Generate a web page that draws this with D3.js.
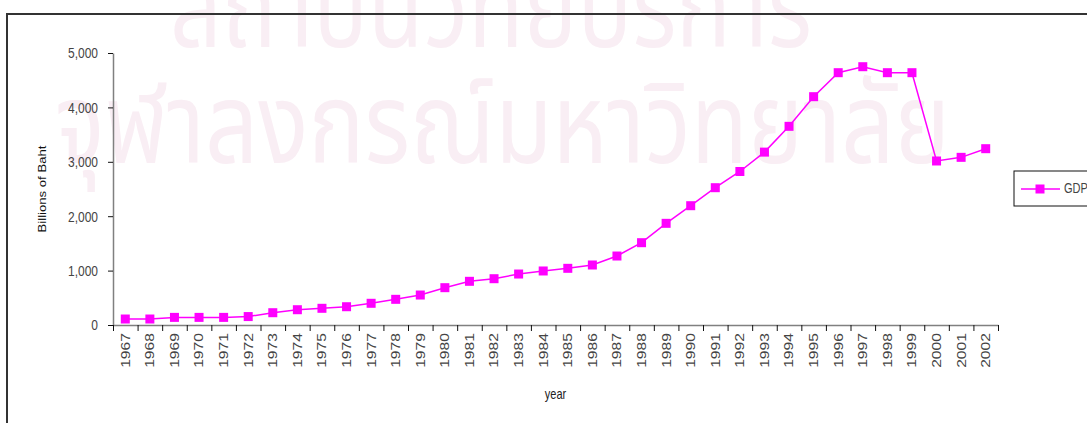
<!DOCTYPE html>
<html>
<head>
<meta charset="utf-8">
<script src="https://cdn.jsdelivr.net/npm/d3@7"></script>
<style>
	body { margin: 0; background: #fff; }
	svg { display: block; font-family: "Liberation Sans", Arial, sans-serif; }
</style>
</head>
<body>
<div id="chart"></div>
<script>

// data
const years = [ "1967", "1968", "1969", "1970", "1971", "1972", "1973", "1974", "1975",
	"1976", "1977", "1978", "1979", "1980", "1981", "1982", "1983", "1984", "1985",
	"1986", "1987", "1988", "1989", "1990", "1991", "1992", "1993", "1994", "1995",
	"1996", "1997", "1998", "1999", "2000", "2001", "2002" ];
const gdp = [ 110, 110, 140, 140, 140, 155, 226, 281, 307,
	336, 399, 472, 551, 686, 803, 851, 937, 993, 1042,
	1103, 1268, 1513, 1869, 2193, 2524, 2822, 3178, 3652, 4197,
	4638, 4748, 4638, 4638, 3015, 3082, 3241 ];
const y_ticks = [ 0, 1000, 2000, 3000, 4000, 5000 ];
const series_name = "GDP";
const watermark = [ "สถาบันวิทยบริการ", "จุฬาลงกรณ์มหาวิทยาลัย" ];

///////////////////////////////////////////////////////////////////////

const width = 1087, height = 423;
const plot_left = 113, plot_right = 998, plot_top = 53, plot_bottom = 325;
const magenta = "#ff00ff";
const stretch = 1.25; // the original text is a little taller than it is wide

let svg = d3.select( "#chart" )
	.append( "svg" )
	.attr( "width", width )
	.attr( "height", height );

// faint watermark behind everything
svg.append( "text" )
	.attr( "x", 170 ).attr( "y", 47 )
	.attr( "textLength", 642 ).attr( "lengthAdjust", "spacingAndGlyphs" )
	.style( "font-family", "'Noto Sans Thai', 'Noto Sans', 'DejaVu Sans', sans-serif" )
	.style( "font-size", "112px" )
	.attr( "fill", "#f9eef4" )
	.text( watermark[ 0 ] );
svg.append( "text" )
	.attr( "x", 55 ).attr( "y", 163 )
	.attr( "textLength", 895 ).attr( "lengthAdjust", "spacingAndGlyphs" )
	.style( "font-family", "'Noto Sans Thai', 'Noto Sans', 'DejaVu Sans', sans-serif" )
	.style( "font-size", "112px" )
	.attr( "fill", "#f9eef4" )
	.text( watermark[ 1 ] );

// chart frame (runs off the right and bottom edges)
svg.append( "rect" )
	.attr( "x", 7 ).attr( "y", 14 )
	.attr( "width", 1200 ).attr( "height", 500 )
	.attr( "fill", "none" )
	.attr( "stroke", "#333" )
	.attr( "stroke-width", 2 );

let X = d3.scaleBand()
	.domain( years )
	.range( [ plot_left, plot_right ] );

let X_edges = d3.scaleLinear()
	.domain( [ 0, years.length ] )
	.range( [ plot_left, plot_right ] );

let Y = d3.scaleLinear()
	.domain( [ 0, 5000 ] )
	.range( [ plot_bottom, plot_top ] );

// y axis
let y_axis = svg.append( "g" )
	.attr( "transform", "translate(" + plot_left + ",0)" )
	.call( d3.axisLeft( Y ).tickValues( y_ticks ).tickFormat( d3.format( "," ) ).tickSize( 5 ).tickSizeOuter( 0 ).tickPadding( 10 ) );
y_axis.select( ".domain" ).attr( "stroke", "#808080" ).attr( "stroke-width", 1.5 );
y_axis.selectAll( ".tick line" ).attr( "stroke", "#111" );
y_axis.selectAll( ".tick text" )
	.attr( "x", -15 )
	.attr( "transform", "scale(1," + stretch + ")" )
	.attr( "fill", "#444" )
	.style( "font-size", "12px" )
	.style( "font-family", "'Liberation Sans', Arial, sans-serif" );

// x axis: ticks between categories
let x_ticks = svg.append( "g" )
	.attr( "transform", "translate(0," + plot_bottom + ")" )
	.call( d3.axisBottom( X_edges ).tickValues( d3.range( years.length + 1 ) ).tickFormat( "" ).tickSize( 6 ).tickSizeOuter( 0 ) );
x_ticks.select( ".domain" ).attr( "stroke", "#808080" ).attr( "stroke-width", 1.5 );
x_ticks.selectAll( ".tick line" ).attr( "stroke", "#111" );

// x labels, rotated
let x_labels = svg.append( "g" )
	.attr( "transform", "translate(0," + plot_bottom + ")" )
	.call( d3.axisBottom( X ).tickSize( 0 ) );
x_labels.select( ".domain" ).remove();
x_labels.selectAll( ".tick text" )
	.attr( "transform", "scale(1," + stretch + ") rotate(-90)" )
	.attr( "x", -6.5 )
	.attr( "y", 0 )
	.attr( "dy", "0.35em" )
	.attr( "text-anchor", "end" )
	.attr( "fill", "#444" )
	.style( "font-size", "12.5px" )
	.style( "font-family", "'Liberation Sans', Arial, sans-serif" );

// axis titles
svg.append( "text" )
	.attr( "transform", "translate(" + ( ( plot_left + plot_right ) / 2 ) + ",399) scale(1," + stretch + ")" )
	.attr( "text-anchor", "middle" )
	.attr( "fill", "#222" )
	.style( "font-size", "11px" )
	.text( "year" );

svg.append( "text" )
	.attr( "transform", "translate(46," + ( ( plot_top + plot_bottom ) / 2 ) + ") scale(1," + stretch + ") rotate(-90)" )
	.attr( "text-anchor", "middle" )
	.attr( "fill", "#111" )
	.style( "font-size", "10.5px" )
	.text( "Billions of Baht" );

// series
let points = years.map( ( y, i ) => [ y, gdp[ i ] ] );
let cx = d => X( d[ 0 ] ) + X.bandwidth() / 2;

svg.append( "path" )
	.datum( points )
	.attr( "d", d3.line().x( cx ).y( d => Y( d[ 1 ] ) ) )
	.attr( "fill", "none" )
	.attr( "stroke", magenta )
	.attr( "stroke-width", 1.5 );

svg.selectAll( "rect.marker" )
	.data( points )
	.join( "rect" )
		.attr( "class", "marker" )
		.attr( "x", d => cx( d ) - 4.5 )
		.attr( "y", d => Y( d[ 1 ] ) - 4.5 )
		.attr( "width", 9 )
		.attr( "height", 9 )
		.attr( "fill", magenta );

// legend
let legend = svg.append( "g" ).attr( "transform", "translate(1014,171)" );
legend.append( "rect" )
	.attr( "width", 120 ).attr( "height", 35 )
	.attr( "fill", "#fff" )
	.attr( "stroke", "#111" )
	.attr( "stroke-width", 1 );
legend.append( "line" )
	.attr( "x1", 7 ).attr( "x2", 46 )
	.attr( "y1", 18 ).attr( "y2", 18 )
	.attr( "stroke", magenta )
	.attr( "stroke-width", 1.5 );
legend.append( "rect" )
	.attr( "x", 21.5 ).attr( "y", 13.5 )
	.attr( "width", 9 ).attr( "height", 9 )
	.attr( "fill", magenta );
legend.append( "text" )
	.attr( "transform", "translate(50,22) scale(1," + stretch + ")" )
	.attr( "fill", "#444" )
	.style( "font-size", "11px" )
	.text( series_name );

</script>
</body>
</html>
